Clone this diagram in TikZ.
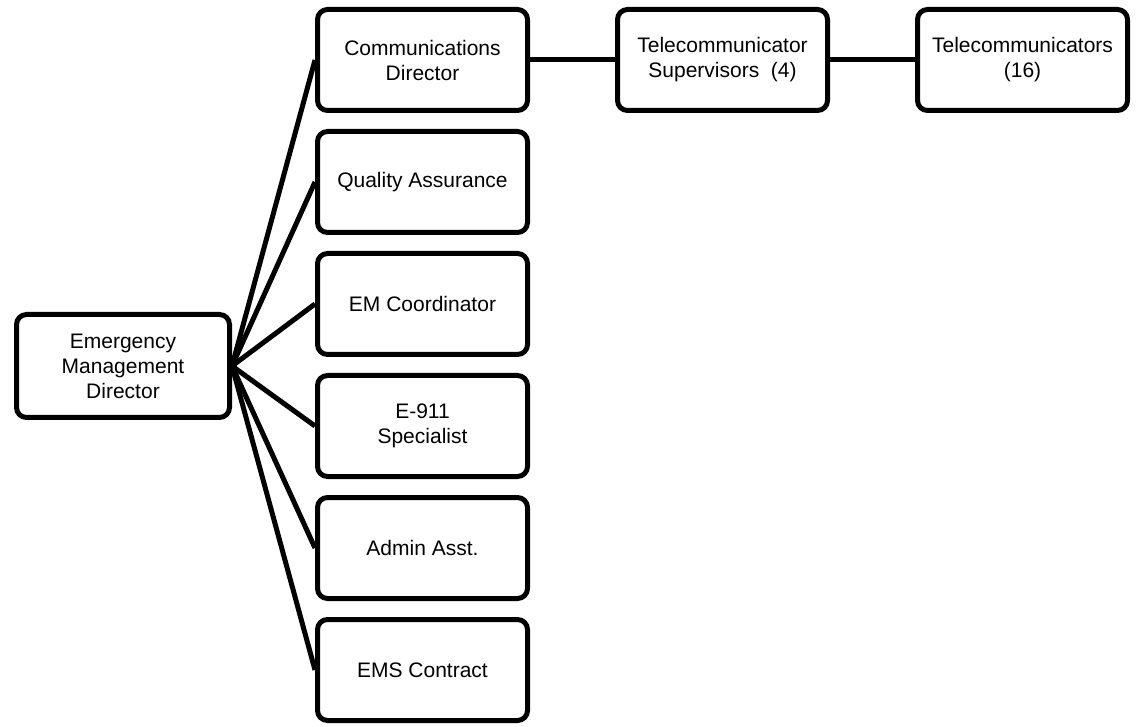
\documentclass[tikz,border=0pt]{standalone}
\usepackage{fontspec}
\setmainfont{Liberation Sans}
\usetikzlibrary{positioning}

\begin{document}
\begin{tikzpicture}[x=0.5pt, y=-0.5pt, node distance=8pt,
  every node/.style={font=\fontsize{10.5}{12.5}\selectfont},
  orgbox/.style={draw, line width=2.5pt, rounded corners=5pt, align=center,
    minimum width=105pt, minimum height=50.5pt, inner sep=2pt},
  link/.style={line width=2.5pt}]
  \useasboundingbox (0,0) rectangle (1136,727);
  \node[orgbox, minimum width=106.5pt, minimum height=51.5pt] (emd) at (123,366) {Emergency\\Management\\Director};
  \node[orgbox] (comm) at (422.5,60) {Communications\\Director};
  \node[orgbox, below=of comm] (qa) {Quality Assurance};
  \node[orgbox, below=of qa] (emc) {EM Coordinator};
  \node[orgbox, below=of emc] (e911) {E-911\\Specialist};
  \node[orgbox, below=of e911] (admin) {Admin Asst.};
  \node[orgbox, below=of admin] (ems) {EMS Contract};
  \node[orgbox, right=42.5pt of comm] (sup) {Telecommunicator\\Supervisors\ \ (4)};
  \node[orgbox, right=42.5pt of sup] (tele) {Telecommunicators\\(16)};
  \foreach \n in {comm,qa,emc,e911,admin,ems}
    \draw[link] (emd.east) -- (\n.west);
  \draw[link] (comm) -- (sup);
  \draw[link] (sup) -- (tele);
\end{tikzpicture}
\end{document}
